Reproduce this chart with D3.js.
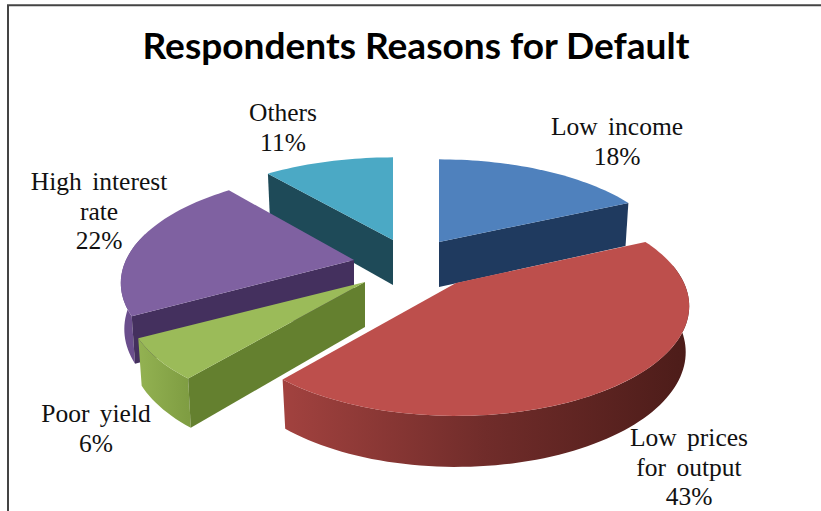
<!DOCTYPE html>
<html>
<head>
<meta charset="utf-8">
<script src="https://cdn.jsdelivr.net/npm/d3@7"></script>
<style>
  html, body { margin: 0; padding: 0; background: #fff; overflow: hidden; }
  svg { display: block; }
</style>
</head>
<body>
<div id="chart"></div>
<script>
const categories = ['Low income', 'Low prices for output', 'Poor yield', 'High interest rate', 'Others'];
const shares = [18, 43, 6, 22, 11];
const labelLines = [
  ['Low income', '18%'],
  ['Low prices', 'for output', '43%'],
  ['Poor yield', '6%'],
  ['High interest', 'rate', '22%'],
  ['Others', '11%']
];
const topColors = ['#4f81bd', '#bd4f4c', '#9bbb59', '#7f61a1', '#4ba9c5'];
const wallColors = ['#1f3a5f', '#5f2523', '#64802f', '#44305e', '#1e4a58'];
const rimStops = [
  ['#1f3a5f', '#1f3a5f'],
  ['#a2423f', '#702c2a', '#4c1c19'],
  ['#93b252', '#7f9d42'],
  ['#6a4e8c', '#6a4e8c'],
  ['#1e4a58', '#1e4a58']
];

// where each exploded slice ends up, picked by eye
const sliceOrigin = [[439, 242], [456, 283], [365, 282], [354, 260], [393, 240]];
const sliceStretch = [[1, 1], [1, 1.05], [1.02, 1.05], [1, 1.05], [1, 1]];
const labelAnchor = [[617, 135], [689, 446], [96, 422], [99, 190], [283, 121]];

const width = 821;
const height = 511;
const depth = 45;
const tilt = 0.21; // how much the far side of the pie shrinks

const xScale = d3.scaleLinear().domain([-1, 1]).range([-228, 228]);
const yScale = d3.scaleLinear().domain([-1, 1]).range([100, -100]);

function project(theta, r, d, lower) {
  const u = r * Math.sin(theta);
  const v = r * Math.cos(theta);
  const s = 1 / (1 + tilt * v);
  const x = xScale(u * s) * d.stretch[0] * (lower ? 0.985 : 1);
  const y = yScale(v * s) * d.stretch[1] + (lower ? depth * (1 + (s - 1) * 0.5) : 0);
  return [d.origin[0] + x, d.origin[1] + y];
}

function arcPoints(a0, a1, d, lower) {
  const n = Math.max(2, Math.ceil((a1 - a0) / 0.03));
  return d3.range(n + 1).map(i => project(a0 + (a1 - a0) * i / n, 1, d, lower));
}

const line = d3.line();

const svg = d3.select('#chart').append('svg')
  .attr('width', width)
  .attr('height', height)
  .attr('viewBox', `0 0 ${width} ${height}`);

const defs = svg.append('defs');

svg.append('rect').attr('width', width).attr('height', height).attr('fill', '#fff');

// frame of the original picture
svg.append('path')
  .attr('d', `M8,${height} V5.3 H${width}`)
  .attr('fill', 'none')
  .attr('stroke', '#444')
  .attr('stroke-width', 2);

svg.append('text')
  .attr('x', 416)
  .attr('y', 59)
  .attr('text-anchor', 'middle')
  .attr('font-family', 'Lato, sans-serif')
  .attr('font-weight', 700)
  .attr('font-size', 37)
  .attr('fill', '#000')
  .attr('textLength', 547)
  .attr('lengthAdjust', 'spacingAndGlyphs')
  .text('Respondents Reasons for Default');

const slices = d3.pie().sort(null).value(d => d)(shares)
  .map((d, i) => ({ ...d, i, origin: sliceOrigin[i], stretch: sliceStretch[i], name: categories[i] }));

// painter's order, back to front
const drawOrder = [4, 0, 3, 2, 1];
const plot = svg.append('g').attr('class', 'pie');

drawOrder.map(i => slices[i]).forEach(d => {
  const g = plot.append('g').attr('class', 'slice');
  const a0 = d.startAngle;
  const a1 = d.endAngle;

  // outer rim, only the part that faces the viewer
  const r0 = Math.max(a0, 80 * Math.PI / 180);
  const r1 = Math.min(a1, 285 * Math.PI / 180);
  if (r1 > r0) {
    const upper = arcPoints(r0, r1, d, false);
    const lower = arcPoints(r0, r1, d, true).reverse();
    const xs = upper.map(p => p[0]);
    const gradId = 'rim' + d.i;
    const grad = defs.append('linearGradient')
      .attr('id', gradId)
      .attr('gradientUnits', 'userSpaceOnUse')
      .attr('x1', d3.min(xs)).attr('x2', d3.max(xs))
      .attr('y1', 0).attr('y2', 0);
    rimStops[d.i].forEach((c, k, all) => {
      grad.append('stop').attr('offset', k / (all.length - 1)).attr('stop-color', c);
    });
    g.append('path')
      .attr('d', line(upper.concat(lower)) + 'Z')
      .attr('fill', `url(#${gradId})`);
  }

  // cut walls facing the viewer
  [a0, a1].forEach((a, k) => {
    const facing = k === 0 ? Math.sin(a) < -1e-6 : Math.sin(a) > 1e-6;
    if (!facing) return;
    const pts = [
      project(a, 0, d, false),
      project(a, 1, d, false),
      project(a, 1, d, true),
      project(a, 0, d, true)
    ];
    g.append('path').attr('d', line(pts) + 'Z').attr('fill', wallColors[d.i]);
  });

  // top face
  const top = [project(0, 0, d, false)].concat(arcPoints(a0, a1, d, false));
  g.append('path')
    .attr('d', line(top) + 'Z')
    .attr('fill', topColors[d.i]);
});

const labels = svg.append('g')
  .attr('font-family', '"Liberation Serif", serif')
  .attr('font-size', 25.5)
  .attr('fill', '#111')
  .attr('text-anchor', 'middle');

labelLines.forEach((lines, i) => {
  const t = labels.append('text')
    .attr('x', labelAnchor[i][0])
    .attr('y', labelAnchor[i][1]);
  lines.forEach((s, k) => {
    t.append('tspan')
      .attr('x', labelAnchor[i][0])
      .attr('dy', k === 0 ? 0 : 29.5)
      .attr('word-spacing', 4)
      .text(s);
  });
});
</script>
</body>
</html>
